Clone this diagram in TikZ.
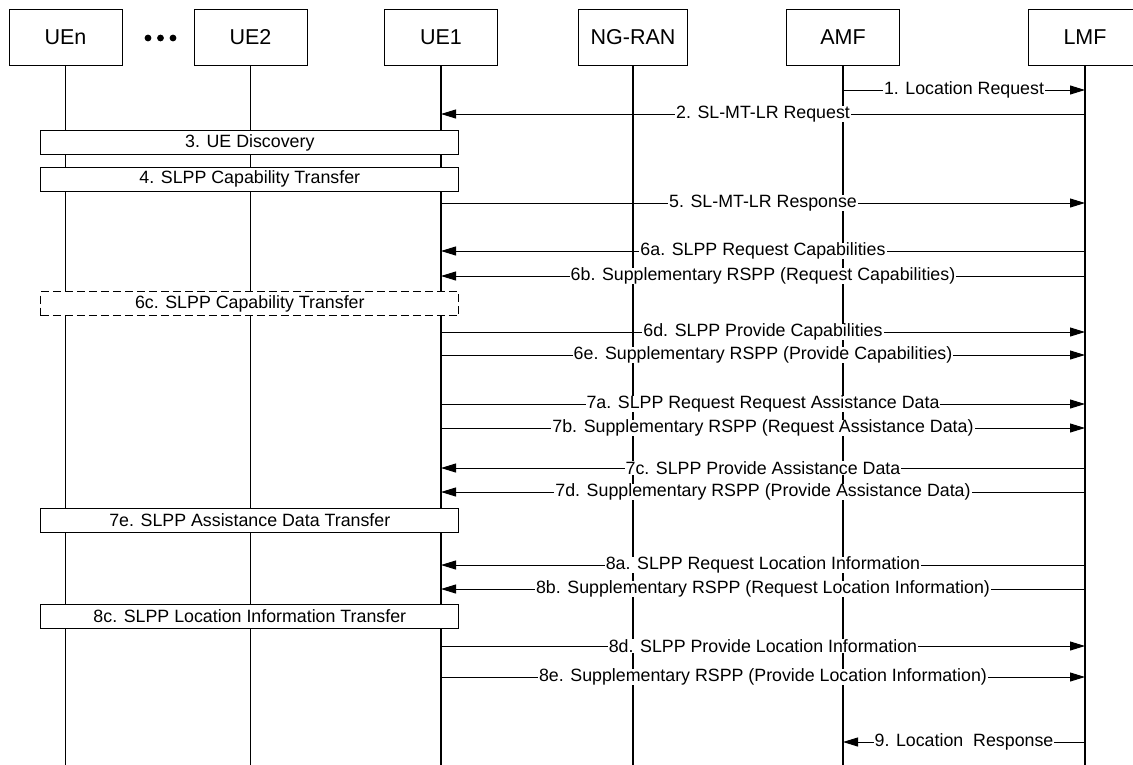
\documentclass[tikz,border=0pt]{standalone}
\usepackage{fontspec}
\setmainfont{Liberation Sans}
\usetikzlibrary{arrows.meta}

\tikzset{
  hdr/.style={draw, fill=white, line width=1pt, minimum width=113pt, minimum height=56pt, font=\fontsize{21.5}{24}\selectfont},
  life/.style={line width=1.2pt},
  grp/.style={draw, fill=white, line width=1pt, minimum width=418pt, minimum height=24pt, inner sep=0pt, font=\fontsize{17.8}{20}\selectfont},
  msg/.style={line width=1pt, -{Triangle[length=15pt,width=9pt]}},
  lbl/.style={fill=white, inner xsep=1pt, inner ysep=0pt, font=\fontsize{17.8}{20}\selectfont},
}

\begin{document}
\begin{tikzpicture}[x=1pt, y=-1pt]
                      \useasboundingbox (0,0) rectangle (1133,764);

                      % entities
                      \node[hdr] (uen) at (65.5,37) {UEn};
                      \node[hdr] (ue2) at (250.5,37) {UE2};
                      \node[hdr] (ue1) at (441,37) {UE1};
                      \node[hdr, minimum width=109pt] (ngran) at (633,37) {NG-RAN};
                      \node[hdr] (amf) at (843,37) {AMF};
                      \node[hdr] (lmf) at (1085,37) {LMF};
                      \foreach \x in {148,160.5,173} \fill (\x,38) circle (3.4pt);

                      % lifelines
                      \foreach \n in {uen,ue2,ue1,ngran,amf,lmf}
                        \draw[life] (\n.south) -- (\n |- 0,770);

                      \draw[msg] (amf |- 0,90) -- node[lbl] (m1) {1. Location Request} (lmf |- 0,90);
                      \draw[msg] (lmf |- 0,114) -- node[lbl] (m2) {2. SL-MT-LR Request} (ue1 |- 0,114);

                      \node[grp] (disc) at (249.8,142.5) {3. UE Discovery};
                      \node[grp] (capt) at (249.8,179) {4. SLPP Capability Transfer};

                      \draw[msg] (ue1 |- 0,203) -- node[lbl] (m5) {5. SL-MT-LR Response} (lmf |- 0,203);

                      \draw[msg] (lmf |- 0,251) -- node[lbl] (m6a) {6a. SLPP Request Capabilities} (ue1 |- 0,251);
                      \draw[msg] (lmf |- 0,276) -- node[lbl] (m6b) {6b. Supplementary RSPP (Request Capabilities)} (ue1 |- 0,276);
                      \node[grp, dash pattern=on 8pt off 4pt] (capt2) at (249.8,303.5) {6c. SLPP Capability Transfer};
                      \draw[msg] (ue1 |- 0,332) -- node[lbl] (m6d) {6d. SLPP Provide Capabilities} (lmf |- 0,332);
                      \draw[msg] (ue1 |- 0,355) -- node[lbl] (m6e) {6e. Supplementary RSPP (Provide Capabilities)} (lmf |- 0,355);

                      \draw[msg] (ue1 |- 0,404) -- node[lbl] (m7a) {7a. SLPP Request Request Assistance Data} (lmf |- 0,404);
                      \draw[msg] (ue1 |- 0,428) -- node[lbl] (m7b) {7b. Supplementary RSPP (Request Assistance Data)} (lmf |- 0,428);
                      \draw[msg] (lmf |- 0,468) -- node[lbl] (m7c) {7c. SLPP Provide Assistance Data} (ue1 |- 0,468);
                      \draw[msg] (lmf |- 0,492) -- node[lbl] (m7d) {7d. Supplementary RSPP (Provide Assistance Data)} (ue1 |- 0,492);
                      \node[grp] (adt) at (249.8,520.5) {7e. SLPP Assistance Data Transfer};

                      \draw[msg] (lmf |- 0,565) -- node[lbl] (m8a) {8a. SLPP Request Location Information} (ue1 |- 0,565);
                      \draw[msg] (lmf |- 0,589) -- node[lbl] (m8b) {8b. Supplementary RSPP (Request Location Information)} (ue1 |- 0,589);
                      \node[grp] (lit) at (249.8,616.5) {8c. SLPP Location Information Transfer};
                      \draw[msg] (ue1 |- 0,646) -- node[lbl] (m8d) {8d. SLPP Provide Location Information} (lmf |- 0,646);
                      \draw[msg] (ue1 |- 0,677) -- node[lbl] (m8e) {8e. Supplementary RSPP (Provide Location Information)} (lmf |- 0,677);

                      \draw[msg] (lmf |- 0,742) -- node[lbl] (m9) {9. Location\ \ Response} (amf |- 0,742);
                  \end{tikzpicture}
\end{document}
